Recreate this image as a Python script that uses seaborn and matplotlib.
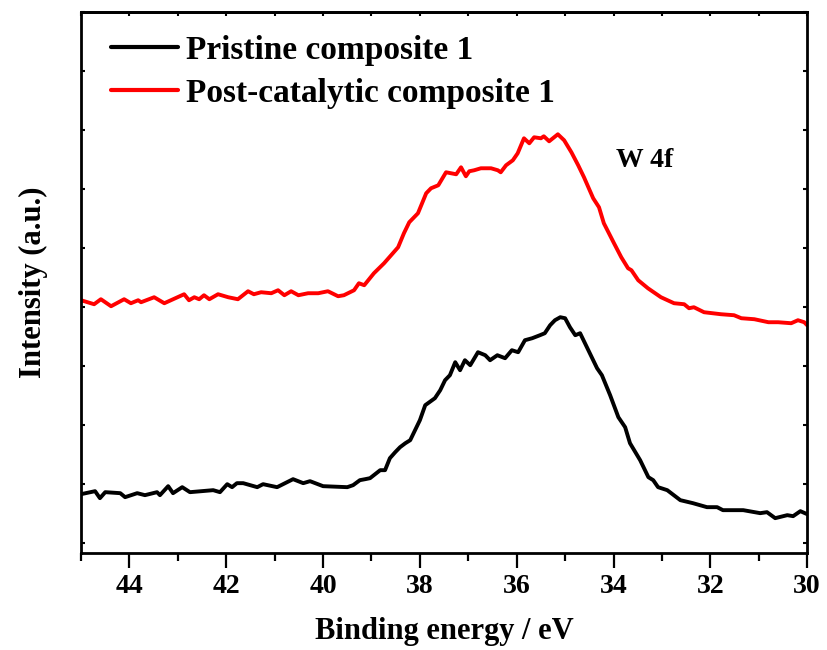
import numpy as np
import pandas as pd
import matplotlib
matplotlib.use("Agg")
import matplotlib.pyplot as plt
from matplotlib.ticker import MultipleLocator, NullFormatter
import seaborn as sns

# ---- data (binding energy in eV, intensity in arbitrary units) ----
pristine_E = [45.00, 44.71, 44.61, 44.50, 44.19, 44.09, 43.84, 43.68, 43.43, 43.37,
              43.20, 43.10, 42.91, 42.75, 42.27, 42.13, 41.98, 41.88, 41.78, 41.65,
              41.36, 41.24, 40.95, 40.62, 40.41, 40.27, 40.00, 39.50, 39.38, 39.24,
              39.13, 39.03, 38.82, 38.72, 38.62, 38.51, 38.41, 38.30, 38.20, 38.00,
              37.89, 37.69, 37.58, 37.48, 37.38, 37.27, 37.17, 37.07, 36.96, 36.80,
              36.65, 36.55, 36.40, 36.24, 36.10, 35.97, 35.83, 35.68, 35.52, 35.42,
              35.31, 35.21, 35.10, 35.00, 34.90, 34.79, 34.69, 34.55, 34.34, 34.24,
              34.07, 33.90, 33.76, 33.66, 33.45, 33.28, 33.18, 33.08, 32.89, 32.62,
              32.36, 32.07, 31.86, 31.74, 31.32, 30.97, 30.83, 30.66, 30.41, 30.29,
              30.14, 30.00]
pristine_I = [1060, 1090, 1020, 1080, 1070, 1030, 1070, 1050, 1080, 1050,
              1140, 1070, 1130, 1080, 1100, 1080, 1160, 1130, 1170, 1170,
              1130, 1160, 1130, 1210, 1170, 1190, 1140, 1130, 1150, 1200,
              1210, 1220, 1300, 1300, 1420, 1480, 1530, 1570, 1600, 1800,
              1950, 2020, 2100, 2200, 2250, 2380, 2300, 2400, 2350, 2480,
              2450, 2400, 2450, 2420, 2500, 2480, 2600, 2620, 2650, 2670,
              2750, 2800, 2830, 2820, 2730, 2650, 2670, 2530, 2320, 2250,
              2050, 1830, 1730, 1570, 1400, 1230, 1200, 1130, 1100, 1000,
              970, 930, 930, 900, 900, 870, 880, 820, 850, 840,
              890, 860]

post_E = [45.00, 44.73, 44.59, 44.38, 44.11, 43.97, 43.82, 43.76, 43.49, 43.28,
          42.87, 42.77, 42.66, 42.56, 42.46, 42.35, 42.17, 41.96, 41.76, 41.55,
          41.43, 41.28, 41.07, 40.93, 40.80, 40.66, 40.51, 40.31, 40.10, 39.90,
          39.69, 39.57, 39.36, 39.26, 39.15, 38.95, 38.74, 38.45, 38.33, 38.22,
          38.04, 37.87, 37.77, 37.62, 37.46, 37.25, 37.15, 37.05, 36.98, 36.88,
          36.74, 36.53, 36.39, 36.33, 36.22, 36.08, 35.98, 35.85, 35.74, 35.64,
          35.50, 35.44, 35.33, 35.15, 35.02, 34.87, 34.73, 34.61, 34.42, 34.30,
          34.20, 33.99, 33.84, 33.70, 33.63, 33.49, 33.29, 33.02, 32.75, 32.54,
          32.44, 32.34, 32.13, 31.78, 31.51, 31.36, 31.09, 30.80, 30.60, 30.33,
          30.19, 30.06, 30.00]
post_I = [3000, 2960, 3010, 2940, 3010, 2970, 3000, 2980, 3030, 2970,
          3060, 3000, 3030, 3010, 3050, 3010, 3060, 3030, 3010, 3090,
          3060, 3080, 3070, 3100, 3050, 3090, 3050, 3070, 3070, 3090,
          3040, 3050, 3100, 3170, 3150, 3270, 3370, 3530, 3670, 3780,
          3870, 4070, 4120, 4150, 4280, 4260, 4330, 4240, 4290, 4300,
          4320, 4320, 4300, 4280, 4350, 4400, 4470, 4620, 4570, 4630,
          4620, 4640, 4590, 4660, 4600, 4480, 4350, 4230, 4020, 3930,
          3770, 3570, 3430, 3320, 3300, 3200, 3120, 3030, 2970, 2960,
          2920, 2930, 2880, 2860, 2850, 2820, 2810, 2780, 2780, 2770,
          2800, 2780, 2750]

labels = ["Pristine composite 1", "Post-catalytic composite 1"]
colors = ["#000000", "#ff0000"]
x_ticks = [44, 42, 40, 38, 36, 34, 32, 30]

df = pd.concat([
    pd.DataFrame({"E": pristine_E, "I": pristine_I, "sample": labels[0]}),
    pd.DataFrame({"E": post_E, "I": post_I, "sample": labels[1]}),
], ignore_index=True)

sns.set_style("ticks")
plt.rcParams["font.family"] = ["Liberation Serif", "DejaVu Serif"]
plt.rcParams["font.weight"] = "bold"
plt.rcParams["text.color"] = "black"
plt.rcParams["axes.labelcolor"] = "black"
plt.rcParams["xtick.color"] = "black"
plt.rcParams["ytick.color"] = "black"

fig = plt.figure(figsize=(8.27, 6.5), dpi=100)
ax = fig.add_axes([0.098, 0.149, 0.878, 0.8325])

sns.lineplot(data=df, x="E", y="I", hue="sample", palette=colors,
             hue_order=labels, sort=False, estimator=None, linewidth=2.8, ax=ax)

ax.set_xlim(45, 30)
ax.set_ylim(470, 5880)
ax.set_xticks(x_ticks)
ax.xaxis.set_minor_locator(MultipleLocator(1))
ax.set_yticks(np.arange(573, 5900, 590))
ax.yaxis.set_major_formatter(NullFormatter())

for s in ax.spines.values():
    s.set_linewidth(2)
    s.set_color("black")

ax.tick_params(axis="x", which="major", direction="out", length=11, width=1.6,
               labelsize=20, pad=4, top=False, labelcolor="black")
ax.tick_params(axis="x", which="minor", direction="out", length=6, width=1.6, top=False)
ax.tick_params(axis="y", which="major", direction="in", length=3, width=1.5,
               left=True, right=True)

# inward ticks on top edge
sec = ax.secondary_xaxis("top")
sec.set_xticks(x_ticks)
sec.xaxis.set_minor_locator(MultipleLocator(1))
sec.tick_params(axis="x", which="both", direction="in", length=3, width=1.5,
                labeltop=False, color="black")
sec.xaxis.set_major_formatter(NullFormatter())
sec.spines["top"].set_linewidth(2)
sec.spines["top"].set_color("black")

for lab in ax.get_xticklabels():
    lab.set_fontweight("bold")
    lab.set_color("black")

ax.set_xlabel("Binding energy / eV", fontsize=22, fontweight="bold", labelpad=13,
              color="black")
ax.set_ylabel("Intensity (a.u.)", fontsize=22, fontweight="bold", labelpad=20,
              color="black")

ax.text(33.95, 4400, "W 4f", fontsize=20, fontweight="bold", ha="left", va="center",
        color="black")

leg = ax.legend(loc="upper left", frameon=False, fontsize=24, handlelength=2.0,
                handletextpad=0.25, labelspacing=0.35, borderaxespad=0.5,
                bbox_to_anchor=(0.0, 1.013))
for t in leg.get_texts():
    t.set_fontweight("bold")
    t.set_color("black")
for h in leg.get_lines():
    h.set_linewidth(3)

fig.savefig("out.png", dpi=100)
